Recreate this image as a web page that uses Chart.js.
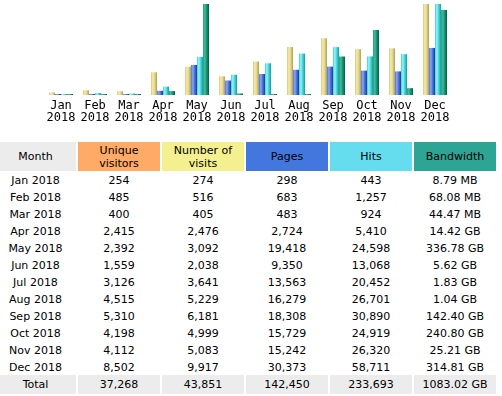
<!DOCTYPE html>
<html>
<head>
<meta charset="utf-8">
<script src="https://cdn.jsdelivr.net/npm/chart.js@4/dist/chart.umd.min.js"></script>
<style>
  html, body { margin: 0; padding: 0; background: #fff; width: 502px; height: 396px; overflow: hidden; }
  #wrap { position: absolute; left: 0; top: 0; width: 502px; height: 129px; }
  .c { position: absolute; text-align: center; font-family: "DejaVu Sans", Verdana, sans-serif; font-size: 11px; color: #000; white-space: nowrap; }
</style>
</head>
<body>
<div id="wrap"><canvas id="chart" width="502" height="129"></canvas></div>
<div id="table"></div>
<script>
// ---- data ----
const months = ["Jan", "Feb", "Mar", "Apr", "May", "Jun", "Jul", "Aug", "Sep", "Oct", "Nov", "Dec"];
const year = "2018";
const uniqueVisitors = [254, 485, 400, 2415, 2392, 1559, 3126, 4515, 5310, 4198, 4112, 8502];
const visits = [274, 516, 405, 2476, 3092, 2038, 3641, 5229, 6181, 4999, 5083, 9917];
const pages = [298, 683, 483, 2724, 19418, 9350, 13563, 16279, 18308, 15729, 15242, 30373];
const hits = [443, 1257, 924, 5410, 24598, 13068, 20452, 26701, 30890, 24919, 26320, 58711];
const bandwidthLabels = ["8.79 MB", "68.08 MB", "44.47 MB", "14.42 GB", "336.78 GB", "5.62 GB", "1.83 GB", "1.04 GB", "142.40 GB", "240.80 GB", "25.21 GB", "314.81 GB"];
const bandwidthGB = [0.00879, 0.06808, 0.04447, 14.42, 336.78, 5.62, 1.83, 1.04, 142.40, 240.80, 25.21, 314.81];
const totals = ["Total", "37,268", "43,851", "142,450", "233,693", "1083.02 GB"];
const headers = ["Month", "Unique<br>visitors", "Number of<br>visits", "Pages", "Hits", "Bandwidth"];

// ---- styles ----
const headerColors = ["#ececec", "#ffaa66", "#f4f090", "#4477dd", "#66ddee", "#2ea495"];
const barGradients = [
  ["#d6c87c", "#f3ebad", "#e4d68e", "#b49f4c"],
  ["#4f78e0", "#86a6f6", "#4d74dc", "#1a389c"],
  ["#3ccfd6", "#9af3f6", "#4cd6dc", "#119ca4"],
  ["#23a080", "#44bc9c", "#1a9474", "#005c44"]
];
const catPct = 24 / 34;

function gradFor(dsIndex) {
  return function (context) {
    const stops = barGradients[dsIndex];
    if (context.type !== 'data') return stops[1];
    const chart = context.chart;
    const xs = chart.scales && chart.scales.x;
    if (!xs || !isFinite(xs.width) || xs.width <= 0) return stops[1];
    const catW = xs.width / months.length;
    const barW = catW * catPct / 4;
    const left = xs.getPixelForValue(context.dataIndex) - catW * catPct / 2 + dsIndex * barW;
    if (!isFinite(left) || !isFinite(barW)) return stops[1];
    const g = chart.ctx.createLinearGradient(left, 0, left + barW, 0);
    g.addColorStop(0, stops[0]);
    g.addColorStop(0.3, stops[1]);
    g.addColorStop(0.6, stops[2]);
    g.addColorStop(1, stops[3]);
    return g;
  };
}

const ctx = document.getElementById('chart').getContext('2d');
const chart = new Chart(ctx, {
  type: 'bar',
  data: {
    labels: months.map(m => [m, year]),
    datasets: [
      { label: 'Visits', data: visits, yAxisID: 'yv', backgroundColor: gradFor(0) },
      { label: 'Pages', data: pages, yAxisID: 'yh', backgroundColor: gradFor(1) },
      { label: 'Hits', data: hits, yAxisID: 'yh', backgroundColor: gradFor(2) },
      { label: 'Bandwidth', data: bandwidthGB, yAxisID: 'yk', backgroundColor: gradFor(3) }
    ]
  },
  options: {
    responsive: false,
    devicePixelRatio: 1,
    animation: false,
    layout: { padding: { left: 44, right: 50, top: 4, bottom: 0 } },
    datasets: { bar: { categoryPercentage: catPct, barPercentage: 1, borderWidth: 0, minBarLength: 1 } },
    plugins: { legend: { display: false }, tooltip: { enabled: false } },
    scales: {
      x: {
        grid: { display: false, drawTicks: false },
        border: { display: false },
        ticks: {
          color: '#000',
          padding: 5,
          maxRotation: 0,
          autoSkip: false,
          font: { family: 'DejaVu Sans Mono', size: 12, lineHeight: 1.0 }
        }
      },
      yv: { display: false, min: 0, max: Math.max(...visits) },
      yh: { display: false, min: 0, max: Math.max(...hits) },
      yk: { display: false, min: 0, max: Math.max(...bandwidthGB) }
    }
  }
});
chart.update('none');

// ---- table ----
const colLeft = [0, 78, 162, 246, 330, 414];
const colWidth = [76, 82, 82, 82, 82, 82];
const fmt = n => n.toLocaleString('en-US');
const table = document.getElementById('table');
function cell(text, col, top, height, lineHeight, bg) {
  const d = document.createElement('div');
  d.className = 'c';
  d.style.left = colLeft[col] + 'px';
  d.style.width = (colWidth[col] - (col === 0 ? 5 : 0)) + 'px';
  if (col === 0) d.style.paddingRight = '5px';
  d.style.top = top + 'px';
  d.style.height = height + 'px';
  d.style.lineHeight = lineHeight + 'px';
  if (bg) d.style.background = bg;
  d.innerHTML = text;
  table.appendChild(d);
  return d;
}
headers.forEach((h, i) => {
  const twoLine = h.indexOf('<br>') >= 0;
  const d = cell(h, i, 142, 29, twoLine ? 13 : 29, headerColors[i]);
  if (twoLine) { d.style.paddingTop = '2px'; d.style.height = '27px'; }
});
months.forEach((m, r) => {
  const top = 172 + r * 17;
  const vals = [m + ' ' + year, fmt(uniqueVisitors[r]), fmt(visits[r]), fmt(pages[r]), fmt(hits[r]), bandwidthLabels[r]];
  vals.forEach((v, c) => cell(v, c, top, 17, 17, null));
});
totals.forEach((v, c) => cell(v, c, 375, 19, 19, '#ececec'));
</script>
</body>
</html>
